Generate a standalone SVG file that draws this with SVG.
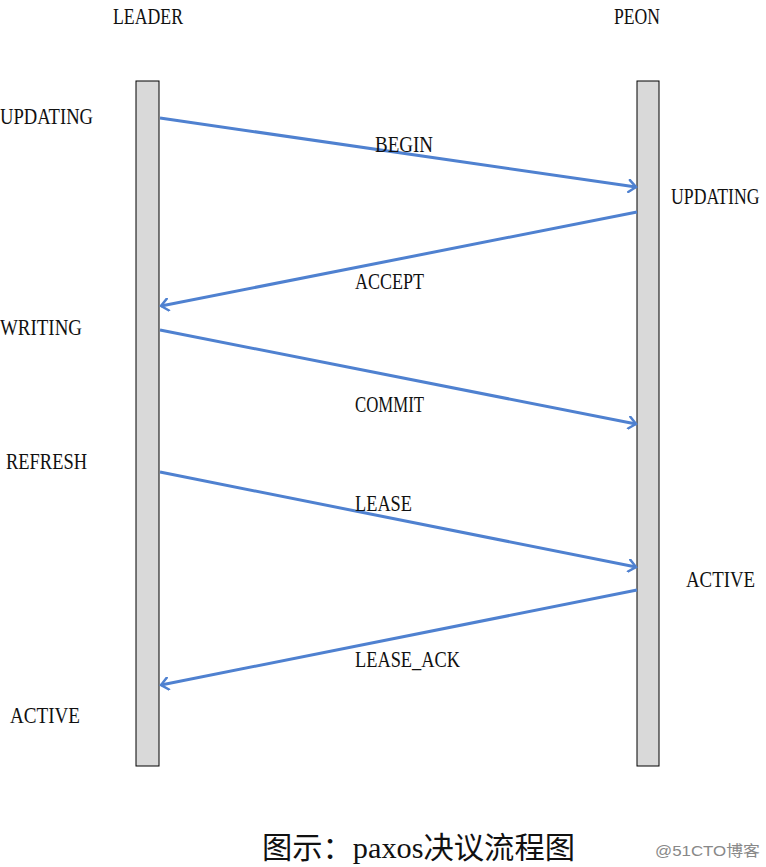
<svg xmlns="http://www.w3.org/2000/svg" width="766" height="867" viewBox="0 0 766 867">
<style>
.t{font-family:"Liberation Serif","Noto Sans CJK SC",serif;font-size:23px;fill:#111}
.bar{fill:#d9d9d9;stroke:#000;stroke-width:1}
.msg{stroke:#4f81d0;stroke-width:3;fill:none;marker-end:url(#ah)}
</style>
<defs>
<marker id="ah" markerWidth="12" markerHeight="14" refX="9" refY="7" orient="auto" markerUnits="userSpaceOnUse">
<path d="M2,1 L9,7 L2,13" fill="none" stroke="#4f81d0" stroke-width="2.5" stroke-linecap="round"/>
</marker>
</defs>
<rect width="766" height="867" fill="#fff"/>
<g id="leader">
<text class="t" x="113" y="24" textLength="70" lengthAdjust="spacingAndGlyphs">LEADER</text>
<rect class="bar" x="136" y="81" width="23" height="685"/>
</g>
<g id="peon">
<text class="t" x="614" y="24" textLength="46" lengthAdjust="spacingAndGlyphs">PEON</text>
<rect class="bar" x="637" y="81" width="22" height="685"/>
</g>
<g id="states">
<text class="t" x="0" y="124" textLength="93" lengthAdjust="spacingAndGlyphs">UPDATING</text>
<text class="t" transform="translate(671,204) scale(0.77,1)">UPDATING</text>
<text class="t" x="0" y="335" textLength="82" lengthAdjust="spacingAndGlyphs">WRITING</text>
<text class="t" x="6" y="469" textLength="81" lengthAdjust="spacingAndGlyphs">REFRESH</text>
<text class="t" transform="translate(686,587) scale(0.82,1)">ACTIVE</text>
<text class="t" x="10" y="723" textLength="70" lengthAdjust="spacingAndGlyphs">ACTIVE</text>
</g>
<g id="connectors">
<line class="msg" x1="160" y1="118" x2="636" y2="187"/>
<line class="msg" x1="637" y1="212" x2="161" y2="306"/>
<line class="msg" x1="160" y1="330" x2="636" y2="424"/>
<line class="msg" x1="160" y1="472" x2="636" y2="567"/>
<line class="msg" x1="637" y1="590" x2="161" y2="685"/>
</g>
<g id="labels">
<text class="t" x="375" y="152" textLength="58" lengthAdjust="spacingAndGlyphs">BEGIN</text>
<text class="t" x="355" y="289" textLength="69" lengthAdjust="spacingAndGlyphs">ACCEPT</text>
<text class="t" x="355" y="412" textLength="69" lengthAdjust="spacingAndGlyphs">COMMIT</text>
<text class="t" x="355" y="511" textLength="57" lengthAdjust="spacingAndGlyphs">LEASE</text>
<text class="t" x="355" y="667" textLength="105" lengthAdjust="spacingAndGlyphs">LEASE_ACK</text>
</g>
<g id="caption">
<text x="262" y="858" style="font-family:'Liberation Serif','Noto Sans CJK SC',serif;font-size:30px;fill:#111" textLength="313" lengthAdjust="spacingAndGlyphs">图示：paxos决议流程图</text>
<text x="655" y="856" style="font-family:'Liberation Sans','Noto Sans CJK SC',sans-serif;font-size:15px;fill:#888" textLength="105" lengthAdjust="spacingAndGlyphs">@51CTO博客</text>
</g>
</svg>
